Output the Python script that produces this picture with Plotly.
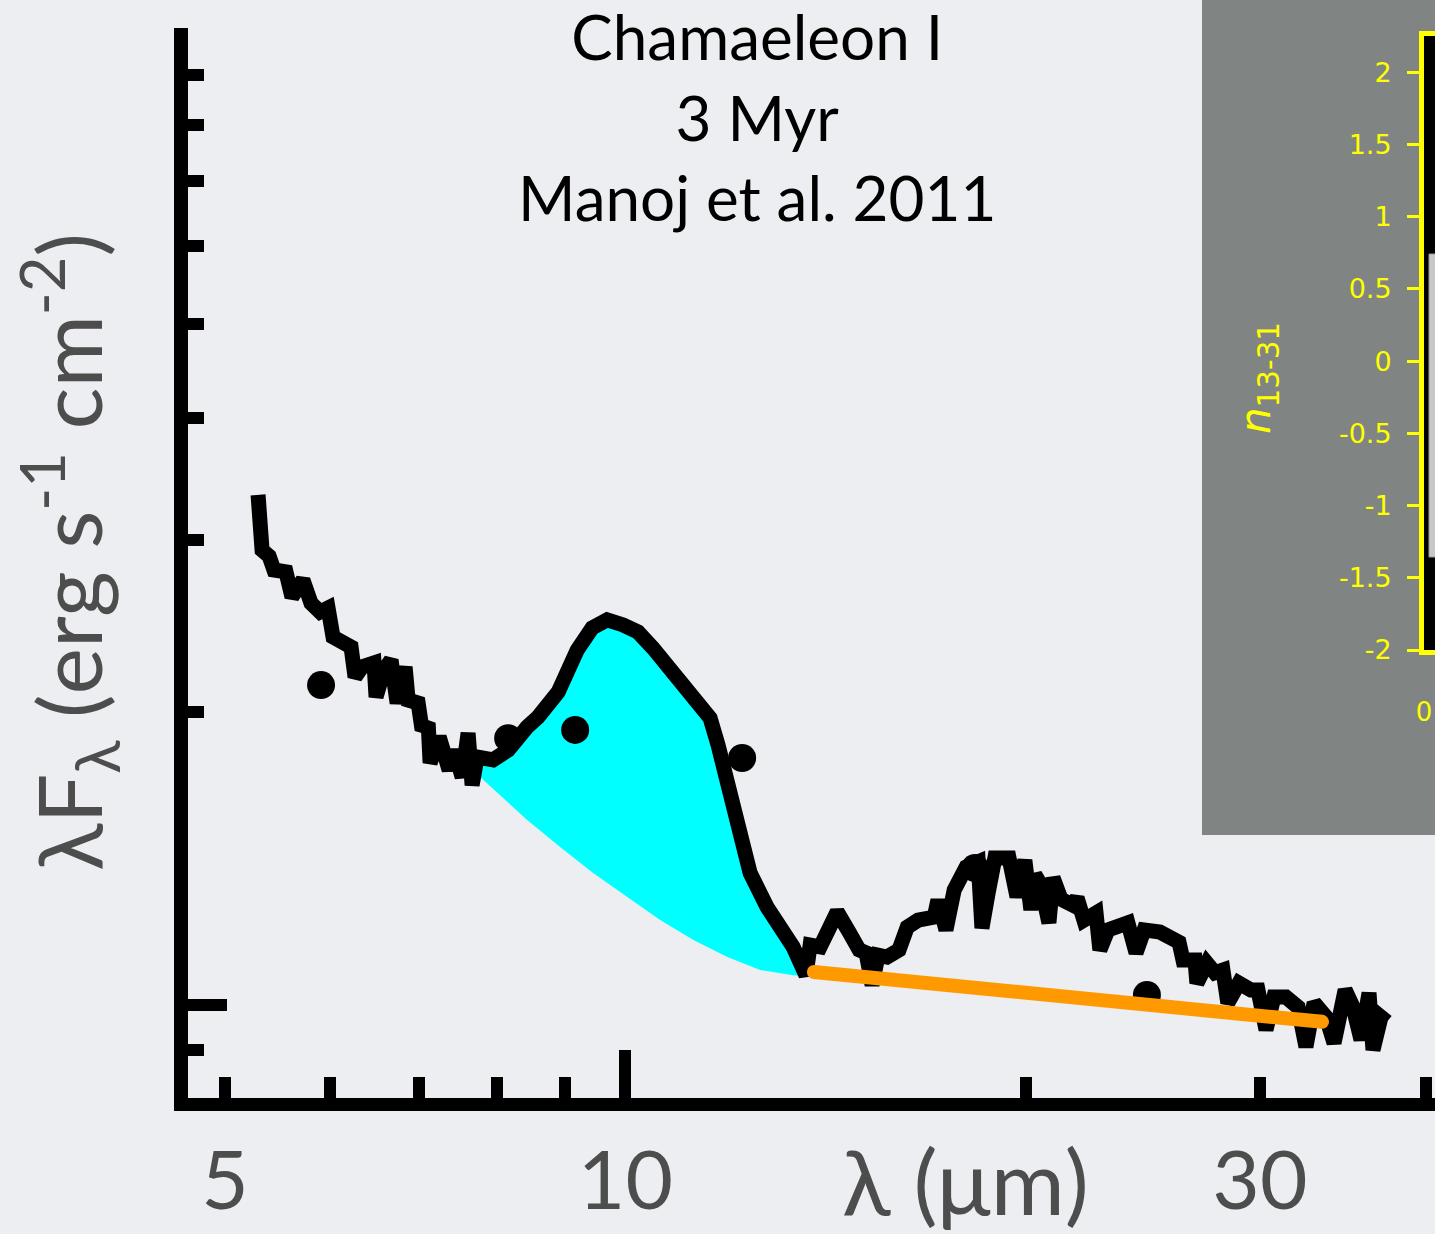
import plotly.graph_objects as go

# ---------------- data ----------------
spec_lam = [5.294, 5.331, 5.396, 5.442, 5.556, 5.614, 5.722, 5.802, 5.894, 5.976,
            6.028, 6.219, 6.262, 6.339, 6.471, 6.494, 6.584, 6.665, 6.735, 6.829,
            6.865, 6.985, 7.033, 7.107, 7.131, 7.244, 7.370, 7.435, 7.538, 7.616,
            7.669, 7.736, 7.953, 8.163, 8.436, 8.597, 8.901, 9.071, 9.199, 9.440,
            9.689, 9.961, 10.22, 10.49, 10.71, 10.99, 11.36, 11.58, 11.74, 11.93,
            12.13, 12.41, 12.78, 13.07, 13.37, 13.67, 13.77, 14.01, 14.43, 14.73,
            14.99, 15.17, 15.33, 15.49, 15.73, 16.06, 16.29, 16.60, 17.07, 17.18,
            17.42, 17.67, 18.04, 18.42, 18.54, 18.74, 18.96, 19.43, 19.70, 19.97,
            20.18, 20.32, 20.53, 20.82, 20.97, 21.26, 21.70, 21.86, 22.12, 22.59,
            22.74, 23.06, 23.54, 23.87, 24.21, 24.55, 25.23, 25.72, 26.08, 26.26,
            26.81, 26.90, 27.37, 27.75, 28.14, 28.38, 28.93, 29.54, 29.90, 30.32,
            30.74, 31.38, 32.05, 32.49, 32.95, 33.64, 34.11, 34.77, 35.25, 35.74,
            36.24, 36.49, 37.00, 37.38]
spec_flux = [3.336, 2.928, 2.887, 2.794, 2.781, 2.621, 2.729, 2.584, 2.530, 2.554,
             2.385, 2.329, 2.170, 2.222, 2.243, 2.070, 2.206, 2.259, 2.040, 2.222,
             2.055, 2.040, 1.915, 1.946, 1.771, 1.883, 1.742, 1.826, 1.713, 1.901,
             1.681, 1.796, 1.784, 1.826, 1.928, 1.974, 2.094, 2.222, 2.312, 2.436,
             2.483, 2.454, 2.413, 2.323, 2.243, 2.129, 2.016, 1.969, 1.848, 1.690,
             1.537, 1.366, 1.260, 1.202, 1.147, 1.073, 1.152, 1.147, 1.246, 1.188,
             1.139, 1.131, 1.048, 1.125, 1.120, 1.139, 1.202, 1.222, 1.231, 1.281,
             1.194, 1.312, 1.385, 1.402, 1.199, 1.303, 1.415, 1.415, 1.291, 1.408,
             1.252, 1.360, 1.328, 1.214, 1.350, 1.284, 1.266, 1.288, 1.222, 1.243,
             1.139, 1.194, 1.202, 1.214, 1.131, 1.194, 1.188, 1.174, 1.160, 1.112,
             1.112, 1.053, 1.104, 1.079, 1.086, 1.005, 1.053, 1.036, 1.036, 0.943,
             1.019, 1.019, 0.995, 0.906, 1.005, 0.972, 0.914, 1.036, 0.995, 0.921,
             1.029, 0.899, 0.972, 0.961]

# silicate-feature underlying continuum (lower edge of the cyan area)
cont_lam = [7.776, 8.436, 8.931, 9.456, 10.03, 10.62, 11.25, 11.93, 12.63, 13.37, 13.67]
cont_flux = [1.713, 1.548, 1.452, 1.366, 1.291, 1.222, 1.166, 1.120, 1.086, 1.073, 1.071]

# 13-31 micron power-law continuum (orange)
pl_lam = [13.86, 33.41]
pl_flux = [1.081, 0.961]

# photometry points
phot_lam = [5.904, 8.163, 9.167, 12.24, 18.32, 24.67]
phot_flux = [2.129, 1.878, 1.915, 1.792, 1.382, 1.024]

x_labelled = [5, 10, 30]
x_labels = ["5", "10", "30"]
x_minor = [6, 7, 8, 9, 20, 40]
y_tickvals = [0.9, 2, 3, 4, 5, 6, 7, 8, 9]
x_major = [10]
y_major = [1]

inset_tickvals = [2, 1.5, 1, 0.5, 0, -0.5, -1, -1.5, -2]
inset_ticktext = ["2", "1.5", "1", "0.5", "0", "-0.5", "-1", "-1.5", "-2"]

title_text = "Chamaeleon I<br>3 Myr<br>Manoj et al. 2011"

# ---------------- figure ----------------
W, H = 1435, 1234
BG = "#eceef2"
GRAY_TXT = "#4d4d4d"
YEL = "#ffff00"

i0, i1 = 31, 56
fill_x = spec_lam[i0:i1] + cont_lam[::-1]
fill_y = spec_flux[i0:i1] + cont_flux[::-1]

fig = go.Figure()
fig.add_trace(go.Scatter(x=fill_x, y=fill_y, fill="toself", fillcolor="#00ffff",
                         mode="lines", line=dict(width=0), hoverinfo="skip",
                         xaxis="x", yaxis="y"))
fig.add_trace(go.Scatter(x=phot_lam, y=phot_flux, mode="markers",
                         marker=dict(color="black", size=28, line=dict(width=0)),
                         xaxis="x", yaxis="y"))
fig.add_trace(go.Scatter(x=spec_lam, y=spec_flux, mode="lines",
                         line=dict(color="black", width=15),
                         xaxis="x", yaxis="y"))
fig.add_trace(go.Scatter(x=pl_lam, y=pl_flux, mode="lines+markers",
                         line=dict(color="#ff9900", width=14),
                         marker=dict(color="#ff9900", size=14),
                         xaxis="x2", yaxis="y2"))
fig.add_trace(go.Scatter(x=[0.5], y=[0], mode="markers", marker=dict(size=1, opacity=0),
                         xaxis="x3", yaxis="y3", hoverinfo="skip"))

xr = [0.6711, 1.6088]
yr = [-0.0954, 1.0021]

fig.update_layout(
    width=W, height=H, autosize=False,
    margin=dict(l=0, r=0, t=0, b=0, pad=0, autoexpand=False),
    paper_bgcolor=BG, plot_bgcolor="rgba(0,0,0,0)",
    showlegend=False,
    xaxis=dict(type="log", domain=[188 / W, 1], range=xr, anchor="y",
               automargin=False,
               showline=True, linecolor="black", linewidth=13,
               ticks="inside", tickvals=x_labelled, ticktext=x_labels,
               ticklen=21, tickwidth=12, tickcolor="black",
               minor=dict(tickmode="array", tickvals=x_minor, ticks="inside",
                          ticklen=21, tickwidth=12, tickcolor="black", showgrid=False),
               tickfont=dict(family="Lato", size=82, color=GRAY_TXT),
               ticklabelstandoff=0,
               showgrid=False, zeroline=False),
    yaxis=dict(type="log", domain=[1 - 1098 / H, 1 - 28 / H], range=yr, anchor="x",
               automargin=False,
               showline=True, linecolor="black", linewidth=14,
               ticks="inside", tickvals=y_tickvals, ticklen=16, tickwidth=12,
               tickcolor="black", showticklabels=False,
               showgrid=False, zeroline=False),
    xaxis2=dict(type="log", overlaying="x", range=xr, anchor="y2", automargin=False,
                ticks="inside", tickvals=x_major, ticklen=48, tickwidth=12,
                tickcolor="black", showticklabels=False, showline=False,
                showgrid=False, zeroline=False),
    yaxis2=dict(type="log", overlaying="y", range=yr, anchor="x2", automargin=False,
                ticks="inside", tickvals=y_major, ticklen=39, tickwidth=12,
                tickcolor="black", showticklabels=False, showline=False,
                showgrid=False, zeroline=False),
    xaxis3=dict(domain=[1424 / W, 1], range=[0, 1], anchor="y3", automargin=False,
                showline=True, linecolor=YEL, linewidth=5, mirror=True,
                ticks="", tickvals=[0], ticktext=["0"],
                tickfont=dict(family="DejaVu Sans", size=26, color=YEL),
                ticklabelstandoff=35, showgrid=False, zeroline=False),
    yaxis3=dict(domain=[1 - 650 / H, 1 - 36 / H], range=[-2, 2.25], anchor="x3",
                automargin=False,
                showline=True, linecolor=YEL, linewidth=5, mirror=False,
                ticks="outside", ticklen=12, tickwidth=3, tickcolor=YEL,
                tickvals=inset_tickvals, ticktext=inset_ticktext,
                tickfont=dict(family="DejaVu Sans", size=27, color=YEL),
                ticklabelstandoff=10, showgrid=False, zeroline=False),
    shapes=[
        dict(type="rect", xref="paper", yref="paper", x0=1202 / W, x1=1.02,
             y0=1 - 835 / H, y1=1.02, fillcolor="#808583", line=dict(width=0),
             layer="below"),
        dict(type="rect", xref="x3 domain", yref="y3 domain", x0=0, x1=1.5,
             y0=0, y1=1, fillcolor="black", line=dict(width=0), layer="below"),
        dict(type="rect", xref="paper", yref="paper", x0=1429 / W, x1=1.01,
             y0=1 - 557 / H, y1=1 - 254 / H, fillcolor="#c8c8c8",
             line=dict(color="#9a9a9a", width=1), layer="above"),
    ],
    annotations=[
        dict(text=title_text, x=757 / W, y=1 - 117 / H, xref="paper", yref="paper",
             showarrow=False, align="center", xanchor="center", yanchor="middle",
             font=dict(family="Lato", size=62, color="black")),
        dict(text="λF<sub>λ</sub> (erg s<sup>-1</sup> cm<sup>-2</sup>)",
             x=68 / W, y=1 - 552 / H, xref="paper", yref="paper", showarrow=False,
             textangle=-90, xanchor="center", yanchor="middle",
             font=dict(family="Lato", size=88, color=GRAY_TXT)),
        dict(text="λ (μm)", x=965 / W, y=1 - 1180 / H, xref="paper", yref="paper",
             showarrow=False, xanchor="center", yanchor="middle",
             font=dict(family="Lato", size=90, color=GRAY_TXT)),
        dict(text="<i>n</i><sub>13-31</sub>", x=1258 / W, y=1 - 378 / H,
             xref="paper", yref="paper", showarrow=False, textangle=-90,
             xanchor="center", yanchor="middle",
             font=dict(family="DejaVu Sans", size=42, color=YEL)),
    ],
)

fig.write_html(
    "out.html",
    config={"displayModeBar": False},
    post_script=("document.documentElement.style.margin='0';"
                 "document.documentElement.style.overflow='hidden';"
                 "document.body.style.margin='0';"
                 "document.body.style.overflow='hidden';"
                 "document.body.style.background='" + BG + "';"),
)
